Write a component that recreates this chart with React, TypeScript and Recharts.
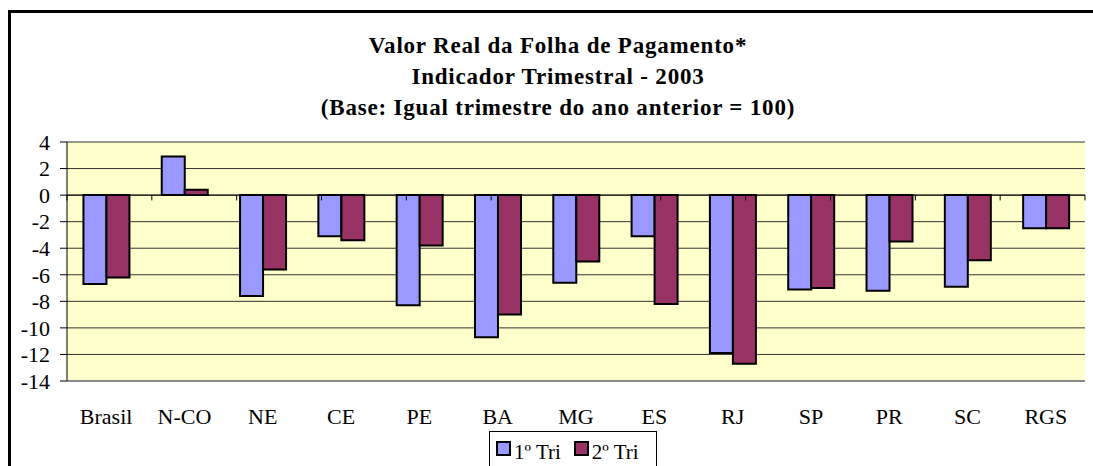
import React from 'react';
import { BarChart, Bar, XAxis, YAxis, CartesianGrid, ReferenceLine, Legend } from 'recharts';

const regions = ['Brasil', 'N-CO', 'NE', 'CE', 'PE', 'BA', 'MG', 'ES', 'RJ', 'SP', 'PR', 'SC', 'RGS'];
const tri1 = [-6.7, 2.9, -7.6, -3.1, -8.3, -10.7, -6.6, -3.1, -11.9, -7.1, -7.2, -6.9, -2.5];
const tri2 = [-6.2, 0.4, -5.6, -3.4, -3.8, -9.0, -5.0, -8.2, -12.7, -7.0, -3.5, -4.9, -2.5];
const yTicks = [-14, -12, -10, -8, -6, -4, -2, 0, 2, 4];
const seriesNames = ['1º Tri', '2º Tri'];
const titleLines = [
  'Valor Real da Folha de Pagamento*',
  'Indicador Trimestral - 2003',
  '(Base: Igual trimestre do ano anterior = 100)',
];
// boundaries between categories, for the little ticks on the zero line
const boundaries = regions.map((_, i) => i).concat(regions.length);

const FONT = "'Liberation Serif', 'Times New Roman', Times, serif";

const data = regions.map((name, i) => ({ name, t1: tri1[i], t2: tri2[i] }));

const LegendBox = ({ payload }: any) => (
  <div
    style={{
      border: '1px solid #000',
      background: '#fff',
      height: 40,
      display: 'flex',
      alignItems: 'flex-start',
      paddingTop: 8,
      paddingLeft: 6,
      boxSizing: 'border-box',
      fontFamily: FONT,
      fontSize: 21,
      color: '#000',
    }}
  >
    {(payload || []).map((p: any) => (
      <span key={p.value} style={{ display: 'flex', alignItems: 'flex-start', marginRight: 13 }}>
        <span
          style={{
            display: 'inline-block',
            width: 11,
            height: 11,
            border: '2px solid #000',
            background: p.color,
            marginTop: 1,
            marginRight: 3,
          }}
        />
        <span style={{ lineHeight: '24px' }}>{p.value}</span>
      </span>
    ))}
  </div>
);

const App: React.FC = () => {
  return (
    <div style={{ position: 'absolute', left: 0, top: 0, width: 1093, height: 466, background: '#fff', overflow: 'hidden' }}>
      <div
        style={{
          position: 'absolute',
          left: 8,
          top: 10,
          width: 1100,
          height: 470,
          borderTop: '3px solid #000',
          borderLeft: '3px solid #000',
        }}
      />
      {titleLines.map((t, i) => (
        <div
          key={t}
          style={{
            position: 'absolute',
            left: 208,
            width: 700,
            top: 33 + i * 31,
            textAlign: 'center',
            fontFamily: FONT,
            fontWeight: 'bold',
            fontSize: 23,
            letterSpacing: 0.8,
            lineHeight: '26px',
            color: '#000',
            whiteSpace: 'nowrap',
          }}
        >
          {t}
        </div>
      ))}
      <div style={{ position: 'absolute', left: 0, top: 0 }}>
        <BarChart
          width={1093}
          height={466}
          data={data}
          margin={{ top: 142, right: 8, bottom: 25, left: 0 }}
          barCategoryGap="21%"
          barGap={0}
        >
          <CartesianGrid horizontal vertical={false} fill="#FFFFCC" stroke="#333" strokeWidth={1} />
          <XAxis
            dataKey="name"
            height={60}
            tickLine={false}
            tickSize={0}
            tickMargin={27}
            axisLine={{ stroke: '#888', strokeWidth: 2 }}
            tick={{ fill: '#000', fontFamily: FONT, fontSize: 22 }}
            interval={0}
          />
          <XAxis xAxisId="b" type="number" domain={[0, regions.length]} hide />
          <YAxis
            domain={[-14, 4]}
            ticks={yTicks}
            width={67}
            tickSize={7}
            tickMargin={10}
            interval={0}
            axisLine={{ stroke: '#000', strokeWidth: 1 }}
            tickLine={{ stroke: '#000' }}
            tick={{ fill: '#000', fontFamily: FONT, fontSize: 22 }}
          />
          <YAxis yAxisId="r" orientation="right" width={0} tick={false} tickLine={false} axisLine={{ stroke: '#888', strokeWidth: 2 }} />
          <ReferenceLine y={0} stroke="#000" strokeWidth={1} />
          {boundaries.map((b) => (
            <ReferenceLine
              key={b}
              xAxisId="b"
              segment={[{ x: b, y: 0 }, { x: b, y: -0.4 }]}
              stroke="#000"
              strokeWidth={1}
            />
          ))}
          <Bar dataKey="t1" name={seriesNames[0]} fill="#9999FF" stroke="#000" strokeWidth={2} isAnimationActive={false} />
          <Bar dataKey="t2" name={seriesNames[1]} fill="#993366" stroke="#000" strokeWidth={2} isAnimationActive={false} />
          <Legend
            layout="horizontal"
            verticalAlign="middle"
            align="center"
            content={<LegendBox />}
            wrapperStyle={{ left: 489, top: 431, width: 168, height: 40 }}
          />
        </BarChart>
      </div>
    </div>
  );
};

export default App;
